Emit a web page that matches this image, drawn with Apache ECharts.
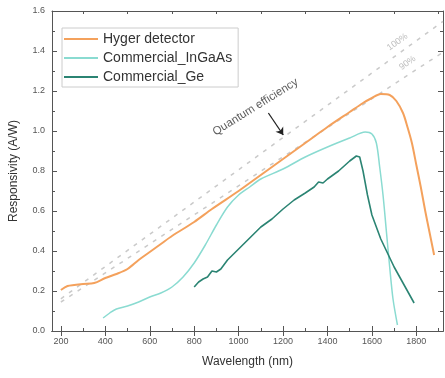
<!DOCTYPE html>
<html>
<head>
<meta charset="utf-8">
<script src="https://cdn.jsdelivr.net/npm/echarts@6/dist/echarts.min.js"></script>
<style>
* {
  margin: 0;
  padding: 0;
}
#chart-container {
  width: 445px;
  height: 378px;
  background: #fff;
}
</style>
</head>
<body>
<div id="chart-container"></div>
<script>
// wavelength (nm) / responsivity (A/W)
const hygerWl = [200, 230, 260, 300, 350, 400, 450, 500, 550, 600, 650, 700, 800, 880, 1000, 1100, 1200, 1300, 1400, 1500, 1560, 1600, 1640, 1680, 1710, 1740, 1760, 1780, 1800, 1820, 1840, 1860, 1880]
const hygerR = [0.205, 0.225, 0.23, 0.235, 0.24, 0.265, 0.285, 0.31, 0.355, 0.395, 0.435, 0.475, 0.545, 0.61, 0.70, 0.78, 0.86, 0.94, 1.02, 1.095, 1.14, 1.165, 1.185, 1.18, 1.15, 1.09, 1.02, 0.94, 0.83, 0.72, 0.6, 0.49, 0.38]

const ingaasWl = [390, 420, 450, 500, 550, 600, 650, 700, 750, 800, 850, 900, 950, 1000, 1050, 1100, 1200, 1300, 1400, 1500, 1570, 1600, 1620, 1635, 1650, 1665, 1680, 1695, 1715]
const ingaasR = [0.065, 0.09, 0.11, 0.125, 0.145, 0.17, 0.19, 0.22, 0.27, 0.34, 0.43, 0.53, 0.62, 0.68, 0.72, 0.76, 0.81, 0.87, 0.92, 0.965, 0.995, 0.985, 0.94, 0.82, 0.68, 0.5, 0.32, 0.16, 0.03]

const geWl = [800, 820, 840, 860, 880, 900, 920, 950, 1000, 1050, 1100, 1150, 1200, 1250, 1300, 1340, 1360, 1380, 1400, 1450, 1500, 1530, 1545, 1560, 1580, 1600, 1640, 1700, 1750, 1790]
const geR = [0.22, 0.245, 0.26, 0.27, 0.3, 0.295, 0.31, 0.355, 0.41, 0.465, 0.52, 0.56, 0.61, 0.655, 0.69, 0.72, 0.745, 0.74, 0.76, 0.8, 0.85, 0.875, 0.87, 0.8, 0.68, 0.58, 0.46, 0.32, 0.22, 0.14]

// quantum efficiency guide lines (end points)
const qe100 = [[200, 0.161], [1920, 1.548]]
const qe90 = [[200, 0.145], [1920, 1.394]]

const xMajor = [200, 400, 600, 800, 1000, 1200, 1400, 1600, 1800]
const xMinor = [300, 500, 700, 900, 1100, 1300, 1500, 1700, 1900]

const zip = (xs, ys) => xs.map((x, i) => [x, ys[i]])

const chartDom = document.getElementById('chart-container')
const myChart = echarts.init(chartDom)

const axisColor = '#555'
const font = 'Liberation Sans, Arial, sans-serif'

const xBase = {
  type: 'value',
  min: 160,
  max: 1920,
  gridIndex: 0,
  splitLine: { show: false },
  axisLine: { show: true, lineStyle: { color: axisColor } }
}

const option = {
  backgroundColor: '#fff',
  animation: false,
  textStyle: { fontFamily: font },
  grid: { left: 49, top: 11, right: 2, bottom: 47 },
  legend: {
    left: 62,
    top: 28,
    orient: 'vertical',
    icon: 'rect',
    itemWidth: 34,
    itemHeight: 2,
    itemGap: 5,
    padding: [4, 6, 3, 2],
    borderColor: '#ccc',
    borderWidth: 1,
    textStyle: { fontSize: 14, color: '#333', fontFamily: font },
    data: ['Hyger detector', 'Commercial_InGaAs', 'Commercial_Ge']
  },
  xAxis: [
    Object.assign({}, xBase, {
      position: 'bottom',
      name: 'Wavelength (nm)',
      nameLocation: 'middle',
      nameGap: 25,
      nameTextStyle: { fontSize: 12, color: '#333' },
      axisTick: { inside: true, length: 5, customValues: xMajor, lineStyle: { color: axisColor } },
      axisLabel: { customValues: xMajor, fontSize: 9, color: '#555', margin: 6, formatter: (v) => String(v) }
    }),
    Object.assign({}, xBase, {
      position: 'top',
      axisTick: { inside: true, length: 5, customValues: xMajor, lineStyle: { color: axisColor } },
      axisLabel: { show: false }
    }),
    Object.assign({}, xBase, {
      position: 'bottom',
      axisTick: { inside: true, length: 3, customValues: xMinor, lineStyle: { color: axisColor } },
      axisLabel: { show: false }
    }),
    Object.assign({}, xBase, {
      position: 'top',
      axisTick: { inside: true, length: 3, customValues: xMinor, lineStyle: { color: axisColor } },
      axisLabel: { show: false }
    })
  ],
  yAxis: [
    {
      type: 'value',
      min: 0,
      max: 1.6,
      interval: 0.2,
      position: 'left',
      name: 'Responsivity (A/W)',
      nameLocation: 'middle',
      nameGap: 32,
      nameTextStyle: { fontSize: 12, color: '#333' },
      splitLine: { show: false },
      axisLine: { show: true, lineStyle: { color: axisColor } },
      axisTick: { inside: true, length: 5, lineStyle: { color: axisColor } },
      minorTick: { show: true, splitNumber: 2, length: 3, lineStyle: { color: axisColor } },
      axisLabel: { fontSize: 9, color: '#555', margin: 7, formatter: (v) => v.toFixed(1) }
    },
    {
      type: 'value',
      min: 0,
      max: 1.6,
      interval: 0.2,
      position: 'right',
      splitLine: { show: false },
      axisLine: { show: true, lineStyle: { color: axisColor } },
      axisTick: { inside: true, length: 5, lineStyle: { color: axisColor } },
      minorTick: { show: true, splitNumber: 2, length: 3, lineStyle: { color: axisColor } },
      axisLabel: { show: false }
    }
  ],
  series: [
    {
      name: '100%',
      type: 'line',
      data: qe100,
      symbol: 'none',
      silent: true,
      lineStyle: { color: '#cacaca', width: 1.5, type: [4, 6] },
      z: 1
    },
    {
      name: '90%',
      type: 'line',
      data: qe90,
      symbol: 'none',
      silent: true,
      lineStyle: { color: '#cacaca', width: 1.5, type: [4, 6] },
      z: 1
    },
    {
      name: 'Hyger detector',
      type: 'line',
      data: zip(hygerWl, hygerR),
      symbol: 'none',
      smooth: 0.3,
      lineStyle: { color: '#f4a15c', width: 2 },
      itemStyle: { color: '#f4a15c' },
      z: 4
    },
    {
      name: 'Commercial_InGaAs',
      type: 'line',
      data: zip(ingaasWl, ingaasR),
      symbol: 'none',
      smooth: 0.3,
      lineStyle: { color: '#8adbd1', width: 1.5 },
      itemStyle: { color: '#8adbd1' },
      z: 3
    },
    {
      name: 'Commercial_Ge',
      type: 'line',
      data: zip(geWl, geR),
      symbol: 'none',
      lineStyle: { color: '#2b8473', width: 1.6 },
      itemStyle: { color: '#2b8473' },
      z: 3,
      markLine: {
        silent: true,
        symbol: ['none', 'arrow'],
        symbolSize: 7,
        label: { show: false },
        lineStyle: { color: '#222', width: 1.3, type: 'solid' },
        data: [[{ coord: [1134, 1.09] }, { coord: [1201, 0.98] }]]
      }
    },
    {
      // annotation labels anchored in data space
      type: 'scatter',
      symbolSize: 0,
      silent: true,
      data: [
        { value: [1076, 1.12], label: { formatter: 'Quantum efficiency', rotate: 32, fontSize: 11.5, color: '#333' } },
        { value: [1715, 1.445], label: { formatter: '100%', rotate: 36, fontSize: 9, color: '#aaa' } },
        { value: [1760, 1.34], label: { formatter: '90%', rotate: 36, fontSize: 9, color: '#aaa' } }
      ],
      label: { show: true, position: 'inside', fontFamily: font }
    }
  ]
}

myChart.setOption(option)
</script>
</body>
</html>
